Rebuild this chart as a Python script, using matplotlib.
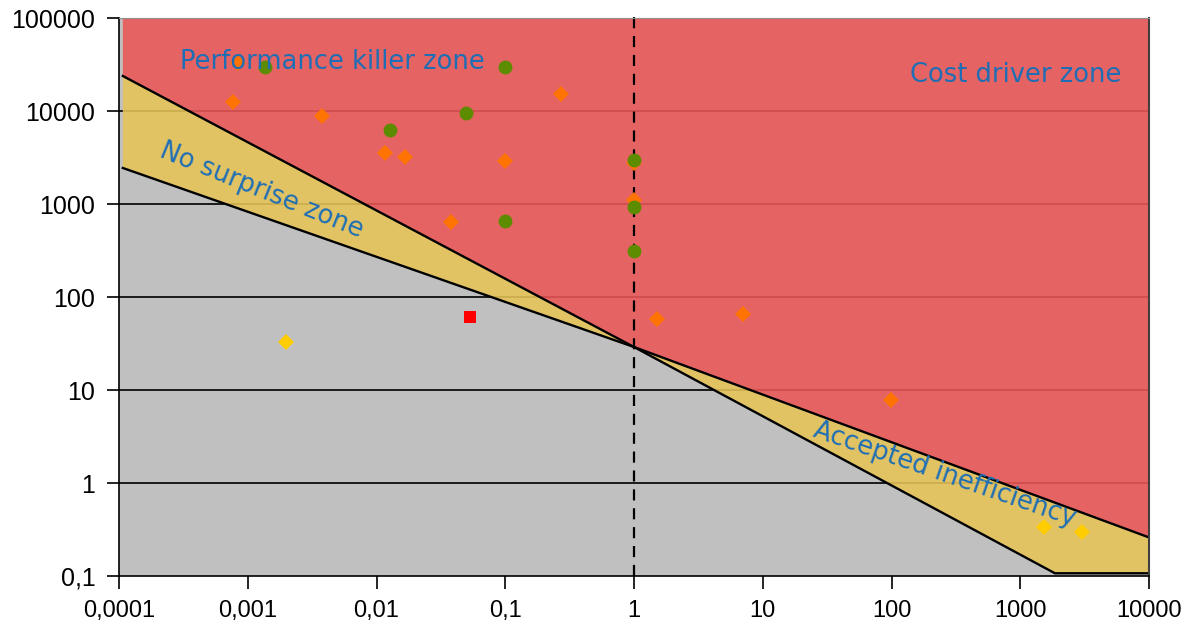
import numpy as np
import matplotlib
matplotlib.use('Agg')
import matplotlib.pyplot as plt

#----------------------------Colours-------------------------------------------#
RED_ZONE = '#EC5656'
YELLOW_ZONE = '#E6C458'
GRAY_ZONE = '#C0C0C0'
TEXT_BLUE = '#1F6EB5'
ORANGE = '#FF7300'
GREEN = '#5E8C00'
YELLOW = '#FFCC00'
RED = '#FF0000'

#----------------------------Data----------------------------------------------#
# zone boundaries (upper = red/yellow, lower = yellow/gray)
upper_x = [1.07e-4, 1.0, 1e4]
upper_y = [23800, 29, 0.26]
lower_x = [1.07e-4, 1.0, 1860, 1e4]
lower_y = [2440, 29, 0.107, 0.107]

orange_x = [0.00077, 0.00084, 0.0038, 0.0116, 0.0166, 0.038, 0.1, 0.27, 1.0, 1.0, 1.5, 7.0, 99]
orange_y = [12500, 32800, 8840, 3530, 3200, 640, 2900, 15200, 2750, 1100, 58, 66, 7.8]
green_x = [0.00136, 0.0127, 0.0496, 0.1, 0.1, 1.0, 1.0, 1.0]
green_y = [29800, 6250, 9500, 30000, 656, 2970, 930, 313]
yellow_x = [0.00198, 1528, 3020]
yellow_y = [32.8, 0.336, 0.297]
red_x = [0.053]
red_y = [61]

x_ticks = [1e-4, 1e-3, 1e-2, 1e-1, 1, 10, 100, 1000, 10000]
x_labels = ['0,0001', '0,001', '0,01', '0,1', '1', '10', '100', '1000', '10000']
y_ticks = [0.1, 1, 10, 100, 1000, 10000, 100000]
y_labels = ['0,1', '1', '10', '100', '1000', '10000', '100000']
grid_y = [1, 10, 100, 1000, 10000]

x_min, x_max = 1e-4, 1e4
y_min, y_max = 0.1, 1e5

#----------------------------Figure--------------------------------------------#
fig = plt.figure(figsize=(12, 6.3), dpi=100)
ax = fig.add_axes([0.0992, 0.0857, 0.8583, 0.8857])
ax.set_xscale('log')
ax.set_yscale('log')
ax.set_xlim(x_min, x_max)
ax.set_ylim(y_min, y_max)
ax.set_facecolor(GRAY_ZONE)

# gridlines under the zones, show through the coloured fills
for g in grid_y:
    ax.axhline(g, color='#1a1a1a', lw=1.4, zorder=1)

# red zone: above upper boundary
red_px = upper_x + [upper_x[-1], upper_x[0]]
red_py = upper_y + [y_max, y_max]
ax.fill(red_px, red_py, color=RED_ZONE, alpha=0.88, lw=0, zorder=2)

# yellow zone: between the two boundaries
yel_px = upper_x + lower_x[::-1]
yel_py = upper_y + lower_y[::-1]
ax.fill(yel_px, yel_py, color=YELLOW_ZONE, alpha=0.88, lw=0, zorder=2)

ax.plot(upper_x, upper_y, color='black', lw=1.7, zorder=3)
ax.plot(lower_x, lower_y, color='black', lw=1.7, zorder=3)
ax.plot([upper_x[-1], upper_x[-1]], [lower_y[-1], upper_y[-1]], color='black', lw=1.2, zorder=3)

# vertical dashed line at x = 1
ax.axvline(1, ymin=0, ymax=1.006, color='black', lw=1.6, ls=(0, (5, 3.5)),
           clip_on=False, zorder=3.5)

# points
ax.plot(orange_x, orange_y, 'D', color=ORANGE, ms=8, mew=0, zorder=4)
ax.plot(green_x, green_y, 'o', color=GREEN, ms=10, mew=0, zorder=4.1)
ax.plot(yellow_x, yellow_y, 'D', color=YELLOW, ms=8, mew=0, zorder=4)
ax.plot(red_x, red_y, 's', color=RED, ms=8.5, mew=0, zorder=4)

# zone labels
txt_kw = dict(color=TEXT_BLUE, fontsize=18.5, family='DejaVu Sans', zorder=5)
ax.text(0.000298, 33600, 'Performance killer zone', ha='left', va='center', **txt_kw)
ax.text(139, 24400, 'Cost driver zone', ha='left', va='center', **txt_kw)
ax.text(0.00129, 1410, 'No surprise zone', ha='center', va='center',
        rotation=-22, rotation_mode='anchor', **txt_kw)
ax.text(260, 1.22, 'Accepted inefficiency', ha='center', va='center',
        rotation=-19, rotation_mode='anchor', **txt_kw)

# axes & ticks
ax.set_xticks(x_ticks)
ax.set_xticklabels(x_labels)
ax.set_yticks(y_ticks)
ax.set_yticklabels(y_labels)
ax.minorticks_off()
ax.tick_params(axis='both', direction='out', length=9, width=1.2, colors='black', pad=8)
for lab in ax.get_xticklabels():
    lab.set_family('Liberation Sans')
    lab.set_fontsize(17)
for lab in ax.get_yticklabels():
    lab.set_family('Liberation Sans')
    lab.set_fontsize(18)

ax.spines['left'].set_color('black')
ax.spines['bottom'].set_color('black')
ax.spines['left'].set_linewidth(1.2)
ax.spines['bottom'].set_linewidth(1.2)
ax.spines['top'].set_color('#909090')
ax.spines['right'].set_color('#404040')
ax.spines['right'].set_linewidth(1.5)
for s in ax.spines.values():
    s.set_zorder(6)

fig.savefig('out.png', dpi=100, facecolor='white')
